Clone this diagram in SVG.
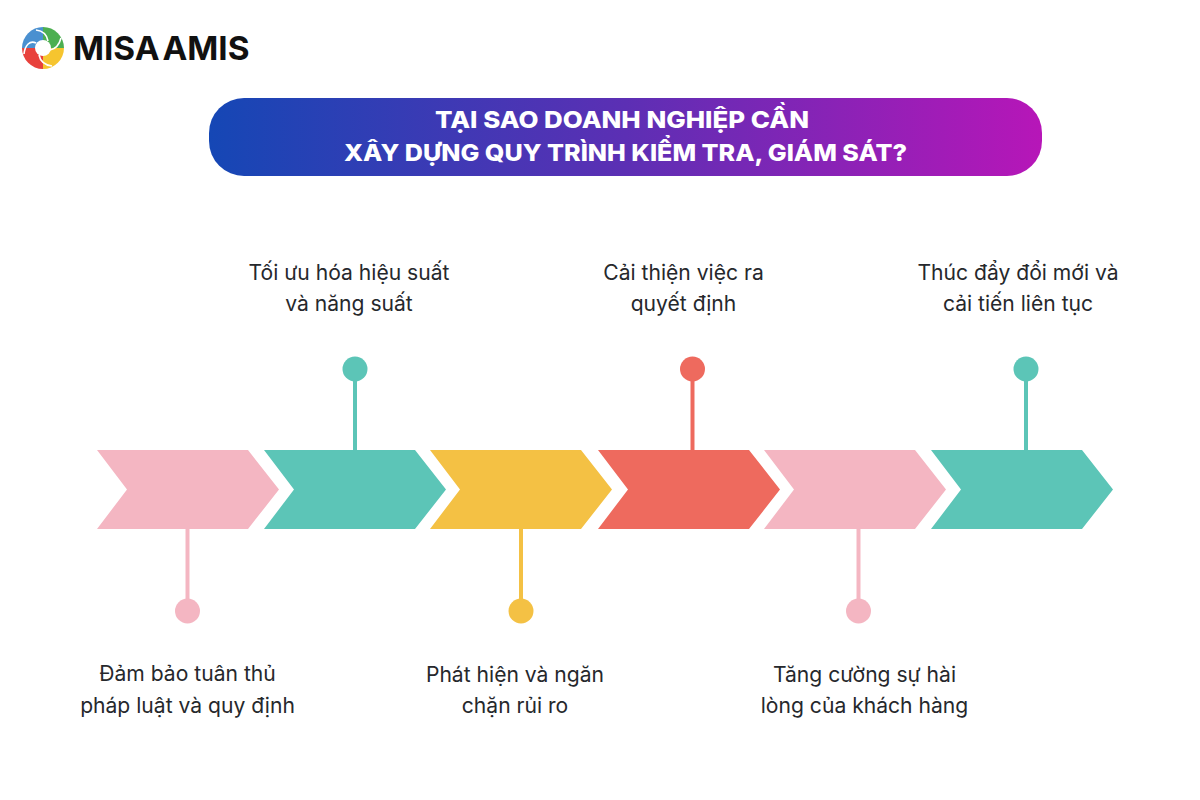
<svg xmlns="http://www.w3.org/2000/svg" width="1200" height="800" viewBox="0 0 1200 800">
<style>
.t{font-family:"Inter","Noto Sans","Liberation Sans",sans-serif;font-size:21.100px;fill:#26282c;text-anchor:middle}
.h{font-family:"Inter","Open Sans","Liberation Sans",sans-serif;font-size:23.500px;font-weight:800;fill:#fff;text-anchor:middle}
.l{stroke-width:4;fill:none}
.pink{fill:#f4b6c2}.teal{fill:#5cc5b7}.yellow{fill:#f4c144}.red{fill:#ee6a5e}
.spink{stroke:#f4b6c2}.steal{stroke:#5cc5b7}.syellow{stroke:#f4c144}.sred{stroke:#ee6a5e}
</style>
<defs>
<linearGradient id="g" x1="0" y1="0" x2="1" y2="0"><stop offset="0" stop-color="#1547b5"/><stop offset="0.5" stop-color="#5c2fb4"/><stop offset="1" stop-color="#b716b8"/></linearGradient>
<polygon id="c" points="0,0 151,0 182,39.500 151,79 0,79 30,39.500"/>
</defs>
<rect width="1200" height="800" fill="#fff"/>
<g id="logo">
<path d="M43 48L22 48A21 21 0 0 1 43 27Z" fill="#4a90d0"/>
<path d="M43 48L43 27A21 21 0 0 1 64 48Z" fill="#4caf50"/>
<path d="M43 48L64 48A21 21 0 0 1 43 69Z" fill="#f6c52f"/>
<path d="M43 48L43 69A21 21 0 0 1 22 48Z" fill="#e8413c"/>
<path d="M36 30C44 31 47 35 48 41M61 38C59 46 55 49 50 50M52 66C44 65 40 60 39 55M24 54C25 45 30 40 36 43" fill="none" stroke="#fff" stroke-width="1.600"/>
<circle cx="43" cy="48" r="8" fill="#fff"/>
<text x="73" y="60" style="font-family:Inter,'Liberation Sans',sans-serif;font-size:33.300px;font-weight:700;word-spacing:-5px;fill:#111">MISA AMIS</text>
</g>
<g id="title">
<rect x="209" y="98" width="833" height="78" rx="35" fill="url(#g)"/>
<text class="h" x="622" y="128" textLength="374" lengthAdjust="spacingAndGlyphs">TẠI SAO DOANH NGHIỆP CẦN</text>
<text class="h" x="625.500" y="161" textLength="563" lengthAdjust="spacingAndGlyphs">XÂY DỰNG QUY TRÌNH KIỂM TRA, GIÁM SÁT?</text>
</g>
<g id="connectors">
<line class="l spink" x1="187.500" y1="529" x2="187.500" y2="611"/>
<line class="l steal" x1="355" y1="369" x2="355" y2="450"/>
<line class="l syellow" x1="521" y1="529" x2="521" y2="611"/>
<line class="l sred" x1="692.500" y1="369" x2="692.500" y2="450"/>
<line class="l spink" x1="858.500" y1="529" x2="858.500" y2="611"/>
<line class="l steal" x1="1026" y1="369" x2="1026" y2="450"/>
</g>
<g id="step1"><use href="#c" x="97" y="450" class="pink"/><circle cx="187.500" cy="611" r="12.500" class="pink"/>
<text class="t" x="187.500" y="681">Đảm bảo tuân thủ</text><text class="t" x="187.500" y="713">pháp luật và quy định</text></g>
<g id="step2"><use href="#c" x="264" y="450" class="teal"/><circle cx="355" cy="369" r="12.500" class="teal"/>
<text class="t" x="349" y="280">Tối ưu hóa hiệu suất</text><text class="t" x="349" y="311">và năng suất</text></g>
<g id="step3"><use href="#c" x="430" y="450" class="yellow"/><circle cx="521" cy="611" r="12.500" class="yellow"/>
<text class="t" x="515" y="682">Phát hiện và ngăn</text><text class="t" x="515" y="713">chặn rủi ro</text></g>
<g id="step4"><use href="#c" x="598" y="450" class="red"/><circle cx="692.500" cy="369" r="12.500" class="red"/>
<text class="t" x="683.500" y="280">Cải thiện việc ra</text><text class="t" x="683.500" y="311">quyết định</text></g>
<g id="step5"><use href="#c" x="764" y="450" class="pink"/><circle cx="858.500" cy="611" r="12.500" class="pink"/>
<text class="t" x="864.500" y="682">Tăng cường sự hài</text><text class="t" x="864.500" y="713">lòng của khách hàng</text></g>
<g id="step6"><use href="#c" x="931" y="450" class="teal"/><circle cx="1026" cy="369" r="12.500" class="teal"/>
<text class="t" x="1018" y="280">Thúc đẩy đổi mới và</text><text class="t" x="1018" y="311">cải tiến liên tục</text></g>
</svg>
